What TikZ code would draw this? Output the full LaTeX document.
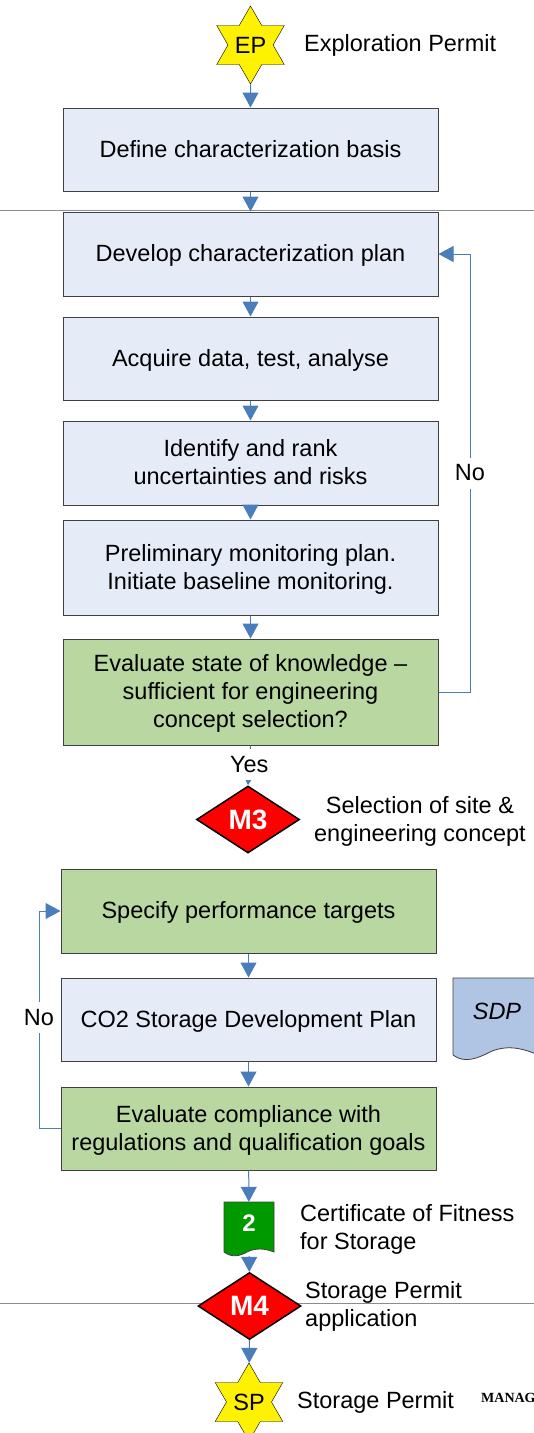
\documentclass[tikz,border=0pt]{standalone}
\usepackage{fontspec}
\setmainfont{Liberation Sans}
\newfontfamily\manafont{Liberation Serif}
\usetikzlibrary{arrows.meta,shapes.geometric}

\definecolor{flowblue}{HTML}{4A7EBB}
\definecolor{boxblue}{HTML}{E6ECF7}
\definecolor{boxgreen}{HTML}{B9D7A0}
\definecolor{docblue}{HTML}{B0C4E3}
\definecolor{docgreen}{HTML}{009900}

\newcommand{\linestrut}{\rule[-5pt]{0pt}{25pt}}
\tikzstyle{bodyfont} = [font=\fontsize{23.5}{28}\selectfont, execute at begin node=\linestrut, execute at end node=\linestrut]
\tikzstyle{twolines} = [execute at begin node=\rule{0pt}{48pt}]
\tikzstyle{threelines} = [execute at begin node=\rule{0pt}{76pt}]
\tikzstyle{txt} = [bodyfont, inner sep=0pt, align=left]
\tikzstyle{stepbox} = [bodyfont, draw=black!75, line width=1pt, fill=boxblue, minimum width=375pt, align=center]
\tikzstyle{decide} = [stepbox, fill=boxgreen]
\tikzstyle{permit} = [star, star points=6, star point ratio=1.732, draw=black, fill=yellow, minimum size=78pt, inner sep=0pt, font=\fontsize{23.5}{28}\selectfont]
\tikzstyle{mile} = [diamond, draw=black, line width=1.5pt, fill=red, text=white, minimum width=103pt, minimum height=67pt, inner sep=0pt, font=\fontsize{28}{30}\selectfont\bfseries]
\tikzstyle{wavedoc} = [draw=black!75, line width=0.8pt]
\tikzstyle{flow} = [draw=flowblue, line width=1pt, -{Triangle[width=16pt,length=15pt]}]
\tikzstyle{rule} = [draw=black!45, line width=1pt]
\tikzstyle{cut} = [bodyfont, fill=white, inner sep=3pt]

\begin{document}
\begin{tikzpicture}[x=1pt,y=-1pt]
  \useasboundingbox (0,0) rectangle (534,1433);

  \coordinate (ruleAl) at (0,210.5);
  \coordinate (ruleAr) at (534,210.5);
  \coordinate (ruleBl) at (0,1303);
  \coordinate (ruleBr) at (534,1303);
  \draw [rule] (ruleAl) -- (ruleAr);
  \draw [rule] (ruleBl) -- (ruleBr);

  % the two wavy documents
  \draw [wavedoc, fill=docblue] (453,978) -- (540,978) -- (540,1056)
    .. controls (522,1047) and (505,1045) .. (490,1052)
    .. controls (478,1058) and (465,1064) .. (453,1055) -- cycle;
  \draw [wavedoc, fill=docgreen] (224,1202) -- (274,1202) -- (274,1252)
    .. controls (264,1248) and (255,1248) .. (247,1252)
    .. controls (240,1256) and (232,1258) .. (224,1252) -- cycle;

  \node (ep) at (250.5,45) [permit] {EP};
  \node (define) at (250.5,149.5) [stepbox, minimum height=83pt] {Define characterization basis};
  \node (develop) at (250.5,254) [stepbox, minimum height=84pt] {Develop characterization plan};
  \node (acquire) at (250.5,358.5) [stepbox, minimum height=83pt] {Acquire data, test, analyse};
  \node (identify) at (250.5,463) [stepbox, twolines, minimum height=84pt] {Identify and rank\\uncertainties and risks};
  \node (prelim) at (250.5,567.5) [stepbox, twolines, minimum height=95pt] {Preliminary monitoring plan.\\Initiate baseline monitoring.};
  \node (evalknow) at (250.5,692) [decide, threelines, minimum height=106pt] {Evaluate state of knowledge --\\sufficient for engineering\\concept selection?};
  \node (mthree) at (248,819.5) [mile] {M3};
  \node (specify) at (248.5,911) [decide, minimum height=84pt] {Specify performance targets};
  \node (sdplan) at (248.5,1019.5) [stepbox, minimum height=83pt] {CO2 Storage Development Plan};
  \node (evalcomp) at (248.5,1128.5) [decide, twolines, minimum height=83pt] {Evaluate compliance with\\regulations and qualification goals};
  \node (cert) at (249,1229) [minimum width=50pt, inner sep=0pt, text height=29pt, text depth=25pt, text=white, font=\fontsize{24}{24}\selectfont\bfseries] {2};
  \node (mfour) at (249.5,1306) [mile] {M4};
  \node (sp) at (249,1402) [permit] {SP};
  \node (sdp) at (497,1011) [font=\fontsize{23.5}{28}\selectfont\itshape, inner sep=0pt] {SDP};

  \node (eplabel) at (304,44) [txt, anchor=west] {Exploration Permit};
  \node (mthreelabel) at (420,820) [txt, twolines, align=center] {Selection of site \&\\engineering concept};
  \node (certlabel) at (300,1228) [txt, twolines, anchor=west] {Certificate of Fitness\\for Storage};
  \node (mfourlabel) at (305,1305) [txt, twolines, anchor=west] {Storage Permit\\application};
  \node (splabel) at (297,1401) [txt, anchor=west] {Storage Permit};
  \node (manag) at (481,1398) [anchor=west, inner sep=0pt, font=\manafont\fontsize{14}{16}\selectfont\bfseries] {MANAG};

  \coordinate (turnright) at (470,692);
  \coordinate (turnleft) at (39,1128.5);

  \draw [flow] (ep) -- (define);
  \draw [flow] (define) -- (develop);
  \draw [flow] (develop) -- (acquire);
  \draw [flow] (acquire) -- (identify);
  \draw [flow] (identify) -- (prelim);
  \draw [flow] (prelim) -- (evalknow);
  \draw [flow] (evalknow.east) -- (turnright) -- node (nohigh) [cut, pos=0.5] {No} (turnright |- develop) -- (develop.east);
  \draw [flow] (evalknow.south) -- node (yes) [cut, pos=0.49] {Yes} (mthree.north);
  \draw [flow] (specify) -- (sdplan);
  \draw [flow] (sdplan) -- (evalcomp);
  \draw [flow] (evalcomp.west) -- (turnleft) -- node (nolow) [cut, pos=0.51] {No} (turnleft |- specify) -- (specify.west);
  \draw [flow] (evalcomp) -- (cert);
  \draw [flow] (cert) -- (mfour);
  \draw [flow] (mfour) -- (sp);
\end{tikzpicture}
\end{document}
